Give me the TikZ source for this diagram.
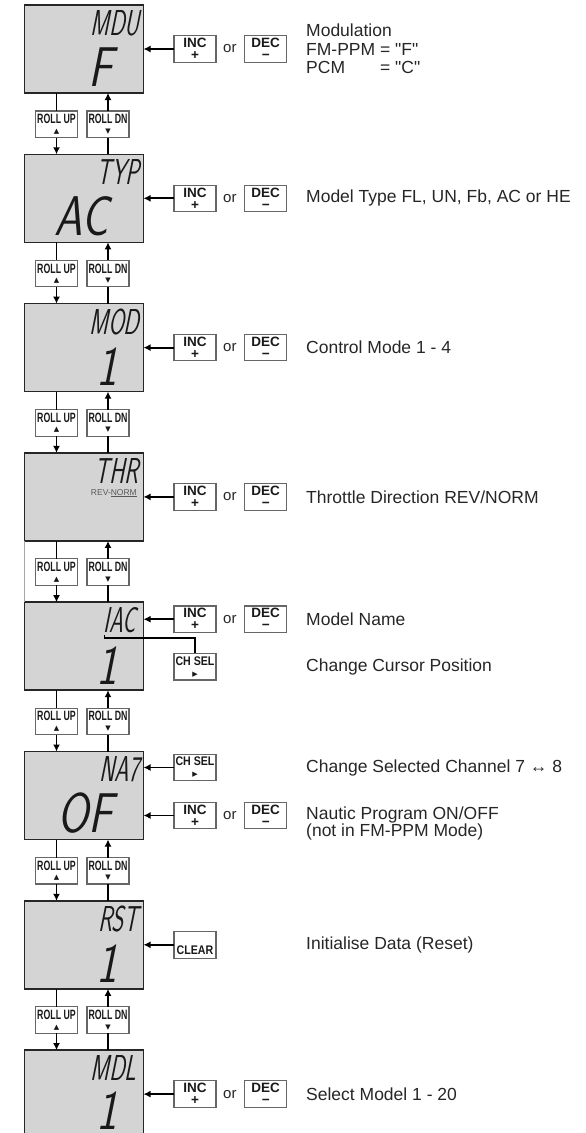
\documentclass[tikz,border=0pt]{standalone}
\usepackage{fontspec}
\setmainfont{Liberation Sans}
\newfontfamily\lcdtag{lmsans17-regular.otf}[FakeSlant=0.2,FakeStretch=0.63]
\newfontfamily\lcdval{lmsans17-regular.otf}[FakeSlant=0.2,FakeStretch=0.8]
\newfontfamily\lcdnarrow{lmsans17-regular.otf}[FakeSlant=0.2,FakeStretch=0.6]
\newfontfamily\rollfont[FakeStretch=0.65]{Liberation Sans}
\newfontfamily\selfont[FakeStretch=0.85]{Liberation Sans}
\newfontfamily\symfont{DejaVu Sans}
\newcommand{\keysym}[1]{{\symfont\fontsize{7}{7}\selectfont #1}}
\usetikzlibrary{positioning,arrows.meta}

\begin{document}
\begin{tikzpicture}[
  x=1pt, y=1pt,
  lcdbox/.style={rectangle, draw=black!85, line width=1.6pt, fill=black!17,
                 minimum width=119pt, minimum height=88pt,
                 inner sep=0pt, outer sep=0pt},
  tagtext/.style={inner sep=0pt, text=black!90,
                  font=\lcdtag\fontsize{36}{36}\selectfont},
  valtext/.style={inner sep=0pt, text=black!90,
                  font=\lcdval\fontsize{56}{56}\selectfont},
  keybox/.style={rectangle, draw=black!60, line width=1.1pt, fill=white,
                 minimum width=42pt, minimum height=26.5pt,
                 inner sep=0pt, outer sep=0pt, align=center, text=black!90,
                 font=\bfseries\fontsize{13.5}{12}\selectfont},
  rollbox/.style={keybox, font=\rollfont\bfseries\fontsize{13.5}{9.5}\selectfont},
  selbox/.style={keybox, font=\selfont\bfseries\fontsize{12.5}{11}\selectfont},
  ortext/.style={inner sep=0pt, text=black!85, font=\fontsize{15}{15}\selectfont},
  desctext/.style={inner sep=0pt, anchor=west, align=left, text=black!85,
                   font=\fontsize{17.5}{18.3}\selectfont},
  wire/.style={line width=1.8pt},
  >={Latex[length=7pt,width=7pt]}
]
  \useasboundingbox (0,0) rectangle (586,-1133);
  \coordinate (textcol) at (306,0);

  % displays
  \node[lcdbox] (lcd1) at (84,-49) {};
  \node[lcdbox, below=61.3pt of lcd1] (lcd2) {};
  \node[lcdbox, below=61.3pt of lcd2] (lcd3) {};
  \node[lcdbox, below=61.3pt of lcd3] (lcd4) {};
  \node[lcdbox, below=61.3pt of lcd4] (lcd5) {};
  \node[lcdbox, below=61.3pt of lcd5] (lcd6) {};
  \node[lcdbox, below=61.3pt of lcd6] (lcd7) {};
  \node[lcdbox, below=61.3pt of lcd7] (lcd8) {};
  \draw[black!35, line width=0.6pt] (lcd4.south west) -- (lcd5.north west);

  \node[tagtext, below left=5pt and 4pt of lcd1.north east] (tag1) {MDU};
  \node[tagtext, below left=5pt and 4pt of lcd2.north east] (tag2) {TYP};
  \node[tagtext, below left=5pt and 4pt of lcd3.north east] (tag3) {MOD};
  \node[tagtext, below left=5pt and 5pt of lcd4.north east] (tag4) {THR};
  \node[tagtext, font=\lcdnarrow\fontsize{36}{36}\selectfont,
        below left=5pt and 8pt of lcd5.north east] (tag5) {IAC};
  \node[tagtext, below left=5pt and 4pt of lcd6.north east] (tag6) {NA7};
  \node[tagtext, below left=5pt and 5pt of lcd7.north east] (tag7) {RST};
  \node[tagtext, below left=5pt and 7pt of lcd8.north east] (tag8) {MDL};
  \node[inner sep=0pt, text=black!65, font=\fontsize{8.5}{8.5}\selectfont,
        below left=36pt and 6.5pt of lcd4.north east] (rev4) {REV-\underline{NORM}};

  \node[valtext, above left=6pt and 31pt of lcd1.south east] (val1) {F};
  \node[valtext, above left=6pt and 35pt of lcd2.south east] (val2) {AC};
  \node[valtext, above left=6pt and 26pt of lcd3.south east] (val3) {1};
  \node[valtext, above left=6pt and 26pt of lcd5.south east] (val5) {1};
  \node[valtext, above left=6pt and 31pt of lcd6.south east] (val6) {OF};
  \node[valtext, above left=6pt and 26pt of lcd7.south east] (val7) {1};
  \node[valtext, above left=8pt and 26pt of lcd8.south east] (val8) {1};

  % roll keys between the displays
  \node[rollbox, below=18pt of lcd1.south, xshift=-27.5pt] (up1) {ROLL UP\\\keysym{▲}};
  \node[rollbox, below=18pt of lcd1.south, xshift=24pt] (dn1) {ROLL DN\\\keysym{▼}};
  \node[rollbox, below=18pt of lcd2.south, xshift=-27.5pt] (up2) {ROLL UP\\\keysym{▲}};
  \node[rollbox, below=18pt of lcd2.south, xshift=24pt] (dn2) {ROLL DN\\\keysym{▼}};
  \node[rollbox, below=18pt of lcd3.south, xshift=-27.5pt] (up3) {ROLL UP\\\keysym{▲}};
  \node[rollbox, below=18pt of lcd3.south, xshift=24pt] (dn3) {ROLL DN\\\keysym{▼}};
  \node[rollbox, below=18pt of lcd4.south, xshift=-27.5pt] (up4) {ROLL UP\\\keysym{▲}};
  \node[rollbox, below=18pt of lcd4.south, xshift=24pt] (dn4) {ROLL DN\\\keysym{▼}};
  \node[rollbox, below=18pt of lcd5.south, xshift=-27.5pt] (up5) {ROLL UP\\\keysym{▲}};
  \node[rollbox, below=18pt of lcd5.south, xshift=24pt] (dn5) {ROLL DN\\\keysym{▼}};
  \node[rollbox, below=18pt of lcd6.south, xshift=-27.5pt] (up6) {ROLL UP\\\keysym{▲}};
  \node[rollbox, below=18pt of lcd6.south, xshift=24pt] (dn6) {ROLL DN\\\keysym{▼}};
  \node[rollbox, below=18pt of lcd7.south, xshift=-27.5pt] (up7) {ROLL UP\\\keysym{▲}};
  \node[rollbox, below=18pt of lcd7.south, xshift=24pt] (dn7) {ROLL DN\\\keysym{▼}};

  \draw[wire] (lcd1.south -| up1) -- (up1.north) (up1.south) edge[->] (up1.south |- lcd2.north);
  \draw[wire] (lcd2.north -| dn1) -- (dn1.south) (dn1.north) edge[->] (dn1.north |- lcd1.south);
  \draw[wire] (lcd2.south -| up2) -- (up2.north) (up2.south) edge[->] (up2.south |- lcd3.north);
  \draw[wire] (lcd3.north -| dn2) -- (dn2.south) (dn2.north) edge[->] (dn2.north |- lcd2.south);
  \draw[wire] (lcd3.south -| up3) -- (up3.north) (up3.south) edge[->] (up3.south |- lcd4.north);
  \draw[wire] (lcd4.north -| dn3) -- (dn3.south) (dn3.north) edge[->] (dn3.north |- lcd3.south);
  \draw[wire] (lcd4.south -| up4) -- (up4.north) (up4.south) edge[->] (up4.south |- lcd5.north);
  \draw[wire] (lcd5.north -| dn4) -- (dn4.south) (dn4.north) edge[->] (dn4.north |- lcd4.south);
  \draw[wire] (lcd5.south -| up5) -- (up5.north) (up5.south) edge[->] (up5.south |- lcd6.north);
  \draw[wire] (lcd6.north -| dn5) -- (dn5.south) (dn5.north) edge[->] (dn5.north |- lcd5.south);
  \draw[wire] (lcd6.south -| up6) -- (up6.north) (up6.south) edge[->] (up6.south |- lcd7.north);
  \draw[wire] (lcd7.north -| dn6) -- (dn6.south) (dn6.north) edge[->] (dn6.north |- lcd6.south);
  \draw[wire] (lcd7.south -| up7) -- (up7.north) (up7.south) edge[->] (up7.south |- lcd8.north);
  \draw[wire] (lcd8.north -| dn7) -- (dn7.south) (dn7.north) edge[->] (dn7.north |- lcd7.south);

  % setting keys
  \node[keybox, right=30.5pt of lcd1] (inc1) {INC\\+};
  \node[ortext, right=7pt of inc1] (or1) {or};
  \node[keybox, right=8pt of or1] (dec1) {DEC\\−};
  \node[keybox, right=30.5pt of lcd2] (inc2) {INC\\+};
  \node[ortext, right=7pt of inc2] (or2) {or};
  \node[keybox, right=8pt of or2] (dec2) {DEC\\−};
  \node[keybox, right=30.5pt of lcd3] (inc3) {INC\\+};
  \node[ortext, right=7pt of inc3] (or3) {or};
  \node[keybox, right=8pt of or3] (dec3) {DEC\\−};
  \node[keybox, right=30.5pt of lcd4] (inc4) {INC\\+};
  \node[ortext, right=7pt of inc4] (or4) {or};
  \node[keybox, right=8pt of or4] (dec4) {DEC\\−};
  \node[keybox, right=30.5pt of lcd5, yshift=27pt] (inc5) {INC\\+};
  \node[ortext, right=7pt of inc5] (or5) {or};
  \node[keybox, right=8pt of or5] (dec5) {DEC\\−};
  \node[selbox, below=21pt of inc5] (sel5) {CH SEL\\\keysym{▶}};
  \node[selbox, right=30.5pt of lcd6, yshift=28pt] (sel6) {CH SEL\\\keysym{▶}};
  \node[keybox, right=30.5pt of lcd6, yshift=-20pt] (inc6) {INC\\+};
  \node[ortext, right=7pt of inc6] (or6) {or};
  \node[keybox, right=8pt of or6] (dec6) {DEC\\−};
  \node[selbox, right=30.5pt of lcd7] (clr7) {\vphantom{C}\\CLEAR};
  \node[keybox, right=30.5pt of lcd8] (inc8) {INC\\+};
  \node[ortext, right=7pt of inc8] (or8) {or};
  \node[keybox, right=8pt of or8] (dec8) {DEC\\−};

  \draw[wire, ->] (inc1.west) -- (lcd1.east |- inc1.west);
  \draw[wire, ->] (inc2.west) -- (lcd2.east |- inc2.west);
  \draw[wire, ->] (inc3.west) -- (lcd3.east |- inc3.west);
  \draw[wire, ->] (inc4.west) -- (lcd4.east |- inc4.west);
  \draw[wire, ->] (inc5.west) -- (lcd5.east |- inc5.west);
  \draw[wire, ->] (sel6.west) -- (lcd6.east |- sel6.west);
  \draw[wire, ->] (inc6.west) -- (lcd6.east |- inc6.west);
  \draw[wire, ->] (clr7.west) -- (lcd7.east |- clr7.west);
  \draw[wire, ->] (inc8.west) -- (lcd8.east |- inc8.west);

  % cursor line
  \coordinate[below right=2pt and 1pt of tag5.south west] (cur5);
  \draw[wire] (cur5) -- ++(0,-3) -| (sel5.north);

  % descriptions
  \node[desctext] (d1) at (textcol |- lcd1) {Modulation\\FM-PPM = \textquotedbl F\textquotedbl\\\rlap{PCM}\hphantom{FM-PPM} = \textquotedbl C\textquotedbl};
  \node[desctext] (d2) at (textcol |- inc2) {Model Type FL, UN, Fb, AC or HE};
  \node[desctext] (d3) at (textcol |- inc3) {Control Mode 1 - 4};
  \node[desctext] (d4) at (textcol |- inc4) {Throttle Direction REV/NORM};
  \node[desctext] (d5) at (textcol |- inc5) {Model Name};
  \node[desctext] (d5b) at (textcol |- sel5) {Change Cursor Position};
  \node[desctext] (d6) at (textcol |- sel6) {Change Selected Channel 7 ↔ 8};
  \node[desctext, font=\fontsize{17.5}{15.5}\selectfont, yshift=-8pt] (d6b) at (textcol |- inc6)
       {Nautic Program ON/OFF\\(not in FM-PPM Mode)};
  \node[desctext] (d7) at (textcol |- clr7) {Initialise Data (Reset)};
  \node[desctext] (d8) at (textcol |- inc8) {Select Model 1 - 20};
\end{tikzpicture}
\end{document}
